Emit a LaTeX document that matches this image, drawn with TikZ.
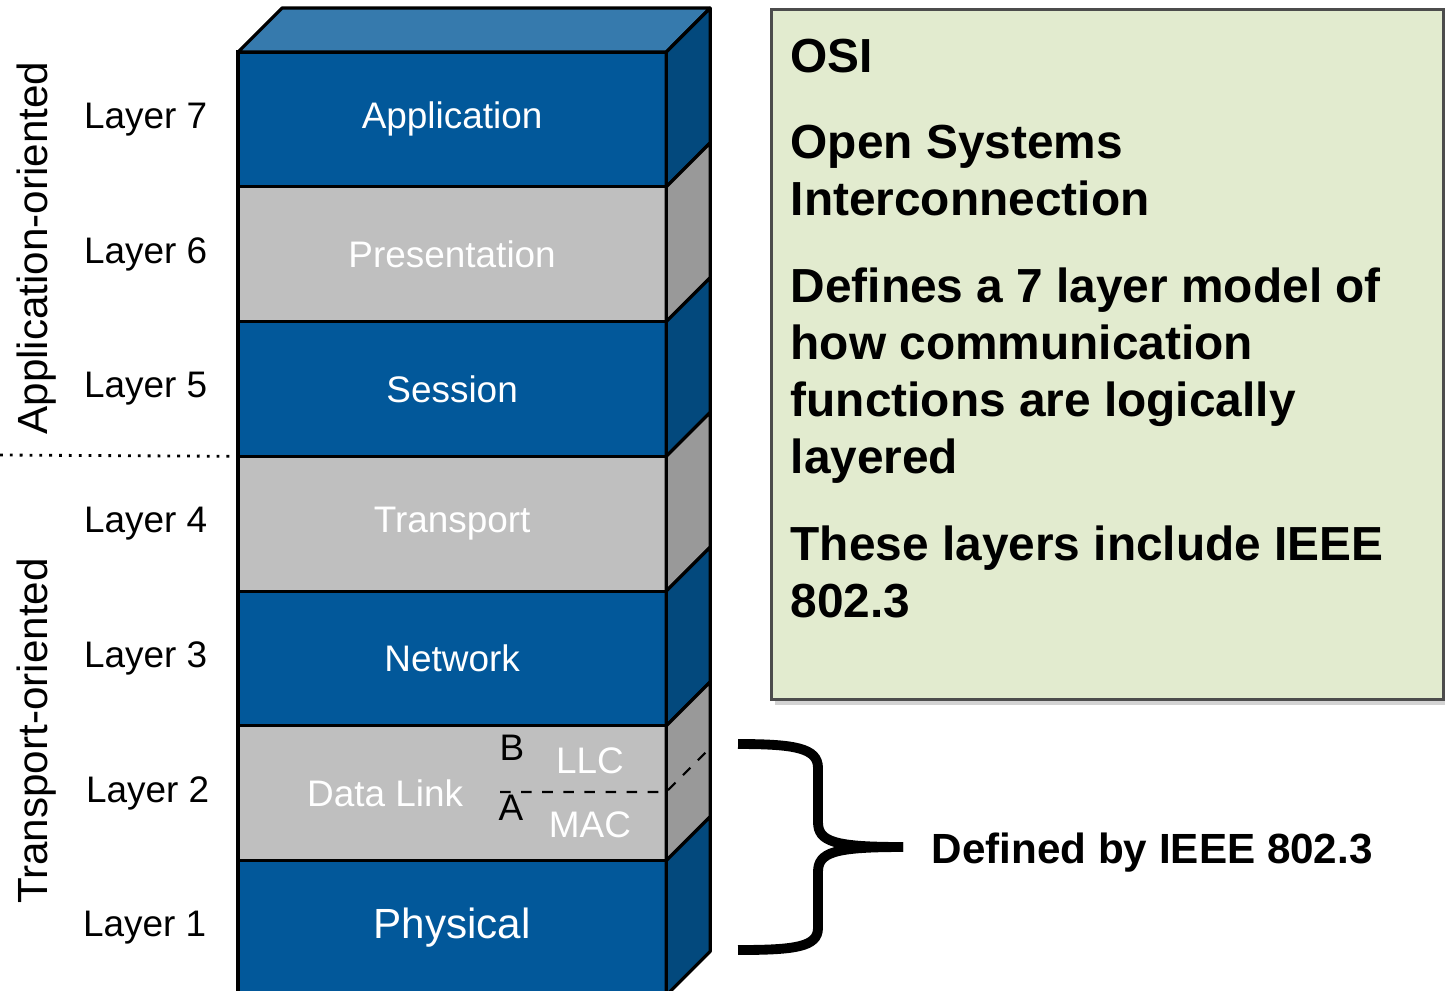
\documentclass[tikz,border=0pt]{standalone}
\usepackage{fontspec}
\setmainfont{Liberation Sans}
\usetikzlibrary{positioning, shadows}

\definecolor{osiblue}{HTML}{02589A}
\definecolor{osibluetop}{HTML}{367AAD}
\definecolor{osiblueside}{HTML}{03497D}
\definecolor{osigray}{HTML}{BFBFBF}
\definecolor{osigrayside}{HTML}{999999}
\definecolor{osigreen}{HTML}{E2EBCF}

\begin{document}
\begin{tikzpicture}[
  x=0.01cm, y=-0.01cm,
  layer/.style={
    rectangle,
    draw,
    line width=0.9pt,
    minimum width=4.28cm,
    minimum height=1.347cm,
    inner sep=0pt,
    outer sep=0pt,
    text=white,
    font=\fontsize{10.5}{12}\selectfont
  },
  bluelayer/.style={
    layer,
    fill=osiblue
  },
  graylayer/.style={
    layer,
    fill=osigray
  },
  face/.style={draw, line width=0.9pt, line join=round},
  lyr/.style={font=\fontsize{10.5}{12}\selectfont, inner sep=0pt},
  orient/.style={font=\fontsize{12}{14}\selectfont, inner sep=0pt, rotate=90},
  sub/.style={font=\fontsize{10.5}{12}\selectfont, inner sep=0pt, text=white},
  osibox/.style={
    rectangle,
    draw=gray!60!black,
    line width=0.8pt,
    fill=osigreen,
    minimum width=6.72cm,
    minimum height=6.9cm,
    drop shadow={shadow xshift=0.04cm, shadow yshift=-0.05cm, opacity=0.35}
  },
  ositext/.style={
    align=left,
    inner sep=0pt,
    font=\bfseries\fontsize{13.6}{16.2}\selectfont
  },
  brace/.style={line width=2.8pt, line cap=butt}
]

\useasboundingbox (0,0) rectangle (1445,990);

% ============================================================
% Layer stack
% ============================================================

\node[bluelayer, anchor=north west] (app) at (238,52) {Application};
\node[graylayer, below=0pt of app] (pres) {Presentation};
\node[bluelayer, below=0pt of pres] (sess) {Session};
\node[graylayer, below=0pt of sess] (trans) {Transport};
\node[bluelayer, below=0pt of trans] (net) {Network};
\node[graylayer, below=0pt of net] (dlink) {};
\node[bluelayer, below=0pt of dlink, font=\fontsize{12}{14}\selectfont] (phys) {Physical};

% top and side faces
\draw[face, fill=osibluetop] (app.north west) -- ++(44,-44) -- ++(428,0) -- (app.north east) -- cycle;

\draw[face, fill=osiblueside] (app.north east) -- ++(44,-44) -- ++(0,134.7) -- (app.south east) -- cycle;
\draw[face, fill=osigrayside] (pres.north east) -- ++(44,-44) -- ++(0,134.7) -- (pres.south east) -- cycle;
\draw[face, fill=osiblueside] (sess.north east) -- ++(44,-44) -- ++(0,134.7) -- (sess.south east) -- cycle;
\draw[face, fill=osigrayside] (trans.north east) -- ++(44,-44) -- ++(0,134.7) -- (trans.south east) -- cycle;
\draw[face, fill=osiblueside] (net.north east) -- ++(44,-44) -- ++(0,134.7) -- (net.south east) -- cycle;
\draw[face, fill=osigrayside] (dlink.north east) -- ++(44,-44) -- ++(0,134.7) -- (dlink.south east) -- cycle;
\draw[face, fill=osiblueside] (phys.north east) -- ++(44,-44) -- ++(0,134.7) -- (phys.south east) -- cycle;

% data link split
\node[sub] (dltext) at ([xshift=-0.67cm]dlink.center) {Data Link};
\node[sub] (llc) at (590,761) {LLC};
\node[sub] (mac) at (590,825) {MAC};
\node[lyr] (subb) at (512,748) {B};
\node[lyr] (suba) at (511,808) {A};
\coordinate (splitl) at (500,792);
\coordinate (splitm) at (666,792);
\draw[dashed, line width=0.6pt] (splitl) -- (splitm) -- ++(44,-44);

% ============================================================
% Layer numbers and groups
% ============================================================

\node[lyr, left=0.3cm of app] (l7) {Layer 7};
\node[lyr, left=0.3cm of pres] (l6) {Layer 6};
\node[lyr, left=0.3cm of sess] (l5) {Layer 5};
\node[lyr, left=0.3cm of trans] (l4) {Layer 4};
\node[lyr, left=0.3cm of net] (l3) {Layer 3};
\node[lyr, left=0.28cm of dlink] (l2) {Layer 2};
\node[lyr, left=0.31cm of phys] (l1) {Layer 1};

\node[orient] (apporient) at (37,248) {Application-oriented};
\node[orient] (transorient) at (37,731) {Transport-oriented};

\draw[dotted, line width=0.8pt] (0,455) -- (trans.north west);

% ============================================================
% OSI box
% ============================================================

\node[osibox, anchor=north west] (osi) at (770,8) {};
\node[ositext, anchor=north west] (ositxt) at (790,38) {
OSI\\[8.5pt]
Open Systems\\
Interconnection\\[8.5pt]
Defines a 7 layer model of\\
how communication\\
functions are logically\\
layered\\[8.5pt]
These layers include IEEE\\
802.3
};

% ============================================================
% Brace
% ============================================================

\coordinate (bracetip) at (903,847);
\node[anchor=west, inner sep=0pt, font=\bfseries\fontsize{12}{14}\selectfont, right=0.28cm of bracetip, yshift=-0.06cm] (ieee) {Defined by IEEE 802.3};

\draw[brace] (738,744) .. controls (795,744) and (818,748) .. (818,768) -- (818,822)
  .. controls (818,842) and (835,847) .. (bracetip);
\draw[brace] (bracetip) .. controls (835,847) and (818,852) .. (818,872) -- (818,928)
  .. controls (818,947) and (795,950) .. (738,950);

\end{tikzpicture}
\end{document}
